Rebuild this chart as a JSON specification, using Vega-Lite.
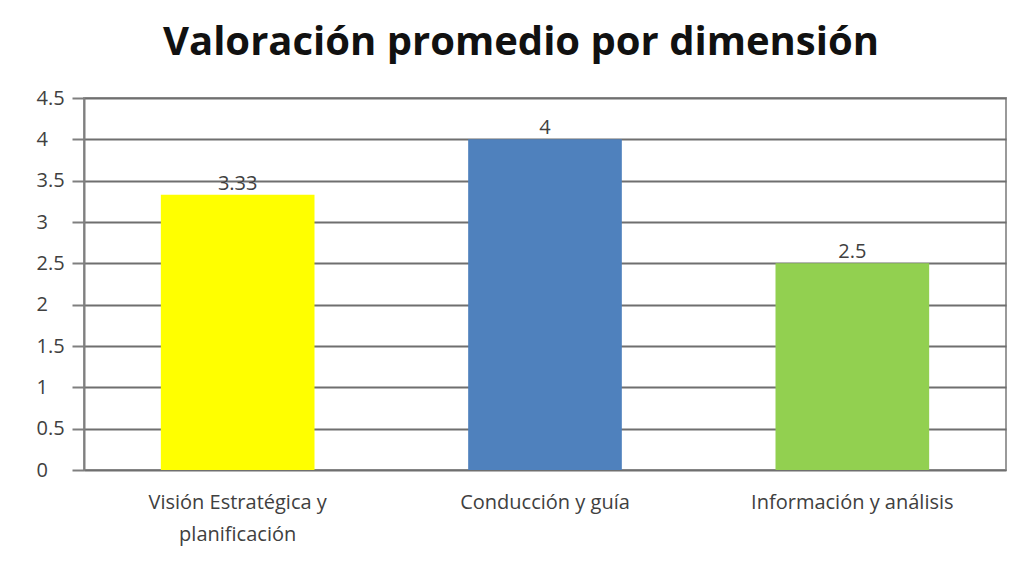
{
  "$schema": "https://vega.github.io/schema/vega-lite/v6.json",
  "width": 922,
  "height": 372,
  "autosize": {"type": "none"},
  "padding": {"left": 84, "top": 98, "right": 8, "bottom": 97},
  "background": "white",
  "title": {
    "text": "Valoración promedio por dimensión",
    "font": "Open Sans",
    "fontSize": 40,
    "fontWeight": "bold",
    "color": "#111111",
    "anchor": "middle",
    "dx": -24,
    "offset": 25
  },
  "data": {
    "values": [
      {"dim": "Visión Estratégica y planificación", "valor": 3.33, "color": "#FFFF00"},
      {"dim": "Conducción y guía", "valor": 4, "color": "#4F81BD"},
      {"dim": "Información y análisis", "valor": 2.5, "color": "#92D050"}
    ]
  },
  "encoding": {
    "x": {
      "field": "dim",
      "type": "nominal",
      "sort": null,
      "scale": {"paddingInner": 0.5, "paddingOuter": 0.25},
      "axis": {
        "title": null,
        "labelAngle": 0,
        "ticks": false,
        "domain": false,
        "labelFont": "Open Sans",
        "labelFontSize": 20,
        "labelColor": "#404040",
        "labelPadding": 22,
        "labelLineHeight": 32,
        "labelBaseline": "top",
        "labelLimit": 400,
        "labelExpr": "datum.label == 'Visión Estratégica y planificación' ? ['Visión Estratégica y', 'planificación'] : datum.label"
      }
    },
    "y": {
      "field": "valor",
      "type": "quantitative",
      "scale": {"domain": [0, 4.5]},
      "axis": {
        "title": null,
        "values": [0, 0.5, 1, 1.5, 2, 2.5, 3, 3.5, 4, 4.5],
        "format": "~g",
        "labelFont": "Open Sans",
        "labelFontSize": 20,
        "labelColor": "#404040",
        "labelAlign": "left",
        "labelPadding": 36,
        "tickSize": 12,
        "tickColor": "#7f7f7f",
        "tickWidth": 2,
        "domainColor": "#7f7f7f",
        "domainWidth": 2,
        "grid": true,
        "gridColor": "#6f6f6f",
        "gridWidth": 2
      }
    }
  },
  "layer": [
    {
      "mark": {"type": "bar"},
      "encoding": {
        "color": {"field": "color", "type": "nominal", "scale": null}
      }
    },
    {
      "mark": {"type": "text", "baseline": "alphabetic", "dy": -5, "font": "Open Sans", "fontSize": 20, "color": "#404040"},
      "encoding": {
        "text": {"field": "valor", "type": "quantitative"}
      }
    }
  ],
  "config": {
    "view": {"stroke": "#9a9a9a", "strokeWidth": 2}
  }
}
